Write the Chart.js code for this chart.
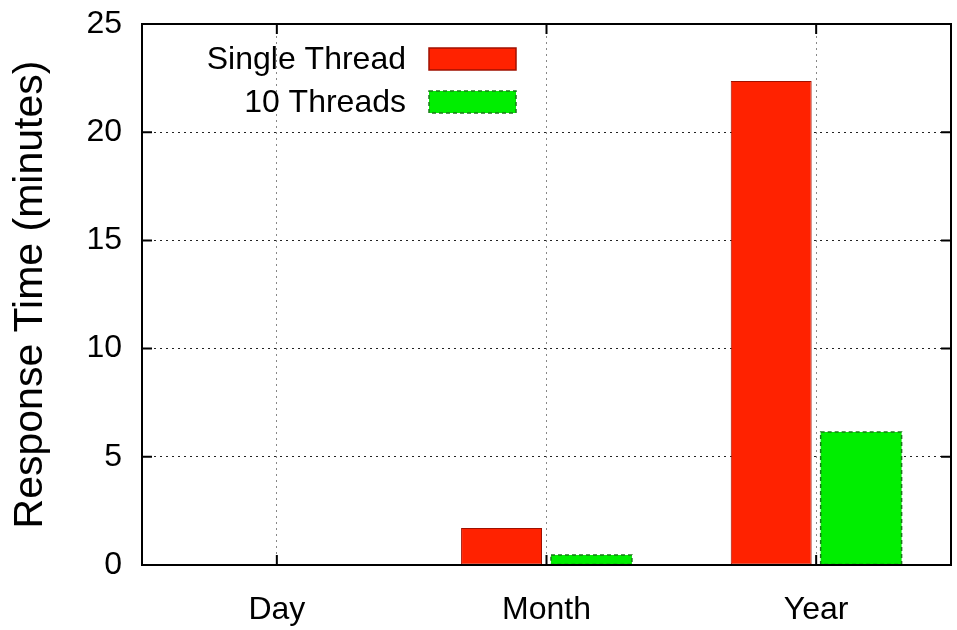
<!DOCTYPE html>
<html>
<head>
<meta charset="utf-8">
<script src="https://cdn.jsdelivr.net/npm/chart.js@4.4.1/dist/chart.umd.min.js"></script>
<style>
  body { margin: 0; background: #fff; }
  #wrap { width: 957px; height: 630px; }
</style>
</head>
<body>
<div id="wrap"><canvas id="myChart"></canvas></div>
<script>
var categories = ["Day", "Month", "Year"];
var singleThread = [0.05, 1.71, 22.37];
var tenThreads = [0, 0.46, 6.15];
var yTickValues = [0, 5, 10, 15, 20, 25];

var FONT = "'Liberation Sans', Arial, Helvetica, sans-serif";

// gnuplot style: closed box with ticks pointing inward
var frame = {
  id: 'frame',
  afterDraw: function (chart) {
    var c = chart.ctx, a = chart.chartArea;
    var x = chart.scales.x, y = chart.scales.y;
    c.save();
    c.strokeStyle = '#000';
    c.lineWidth = 2;
    c.setLineDash([]);
    c.strokeRect(a.left, a.top, a.right - a.left, a.bottom - a.top);
    yTickValues.forEach(function (v) {
      var py = y.getPixelForValue(v);
      c.beginPath();
      c.moveTo(a.left, py); c.lineTo(a.left + 10, py);
      c.moveTo(a.right, py); c.lineTo(a.right - 10, py);
      c.stroke();
    });
    categories.forEach(function (cat, i) {
      var px = x.getPixelForTick(i);
      c.beginPath();
      c.moveTo(px, a.bottom); c.lineTo(px, a.bottom - 10);
      c.moveTo(px, a.top); c.lineTo(px, a.top + 10);
      c.stroke();
    });
    c.restore();
  }
};

// dashed outline for the 10 threads bars + the legend in the top-left corner
var dashedBars = {
  id: 'dashedBars',
  afterDatasetsDraw: function (chart) {
    var c = chart.ctx;
    var meta = chart.getDatasetMeta(1);
    c.save();
    c.strokeStyle = '#1a7a1a';
    c.lineWidth = 1.5;
    c.setLineDash([4, 3]);
    meta.data.forEach(function (bar) {
      var p = bar.getProps(['x', 'y', 'base', 'width'], true);
      if (p.base - p.y < 1) return;
      c.strokeRect(p.x - p.width / 2, p.y, p.width, p.base - p.y);
    });
    c.restore();

    // legend
    var ds = chart.data.datasets;
    var rows = [59, 102];
    c.save();
    c.font = '32px ' + FONT;
    c.textAlign = 'right';
    c.textBaseline = 'middle';
    c.fillStyle = '#000';
    ds.forEach(function (d, i) {
      var yy = rows[i];
      c.fillText(d.label, 406, yy + 1);
      c.setLineDash([]);
      c.fillStyle = d.backgroundColor;
      c.fillRect(429, yy - 11, 87, 22);
      c.lineWidth = 1.5;
      if (i === 1) { c.setLineDash([4, 3]); c.strokeStyle = '#1a7a1a'; }
      else { c.strokeStyle = '#a01000'; }
      c.strokeRect(429, yy - 11, 87, 22);
      c.fillStyle = '#000';
    });
    c.restore();
  }
};

var ctx = document.getElementById("myChart");

new Chart(ctx, {
  type: 'bar',
  data: {
    labels: categories,
    datasets: [{
      label: 'Single Thread',
      data: singleThread,
      backgroundColor: '#ff2200',
      borderColor: '#a01000',
      borderWidth: 1,
      borderSkipped: false
    }, {
      label: '10 Threads',
      data: tenThreads,
      backgroundColor: '#00ee00',
      borderWidth: 0
    }]
  },
  options: {
    responsive: true,
    maintainAspectRatio: false,
    animation: false,
    layout: { padding: { top: 24, right: 6, left: 0, bottom: 0 } },
    plugins: {
      legend: { display: false },
      tooltip: { enabled: false }
    },
    datasets: {
      bar: { categoryPercentage: 0.667, barPercentage: 0.9 }
    },
    scales: {
      x: {
        afterFit: function (s) { s.height = 65; s.paddingLeft = 0; s.paddingRight = 0; },
        grid: {
          offset: false,
          drawTicks: false,
          color: '#888',
          lineWidth: 1
        },
        border: { display: false, dash: [2, 4] },
        ticks: {
          padding: 26,
          color: '#000',
          font: { family: FONT, size: 32 }
        }
      },
      y: {
        min: 0,
        max: 25,
        afterFit: function (s) { s.width = 142; s.paddingTop = 0; s.paddingBottom = 0; },
        afterBuildTicks: function (s) {
          s.ticks = yTickValues.map(function (v) { return { value: v }; });
        },
        grid: {
          drawTicks: false,
          color: '#222',
          lineWidth: 1
        },
        border: { display: false, dash: [2, 4] },
        ticks: {
          padding: 20,
          color: '#000',
          font: { family: FONT, size: 32 }
        },
        title: {
          display: true,
          text: 'Response Time (minutes)',
          color: '#000',
          padding: { top: 6, bottom: 0 },
          font: { family: FONT, size: 41 }
        }
      }
    }
  },
  plugins: [dashedBars, frame]
});
</script>
</body>
</html>
